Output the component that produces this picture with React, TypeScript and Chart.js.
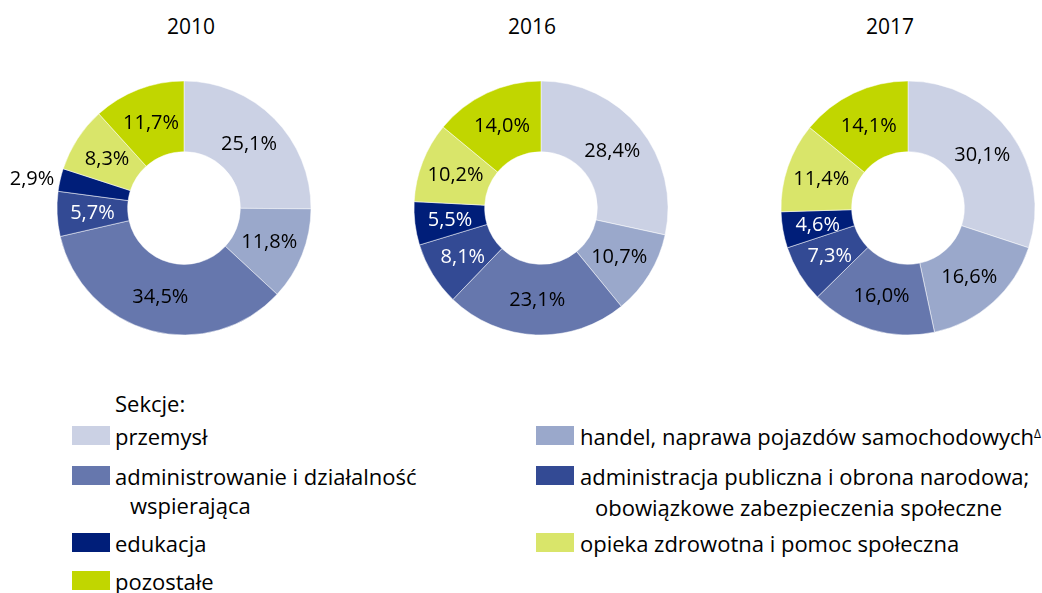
import React, { useEffect, useRef } from 'react';
import { Chart, registerables } from 'chart.js';

Chart.register(...registerables);

const sectors = [
  'przemysł',
  'handel, naprawa pojazdów samochodowych',
  'administrowanie i działalność wspierająca',
  'administracja publiczna i obrona narodowa; obowiązkowe zabezpieczenia społeczne',
  'edukacja',
  'opieka zdrowotna i pomoc społeczna',
  'pozostałe',
];
const years = ['2010', '2016', '2017'];
const values2010 = [25.1, 11.8, 34.5, 5.7, 2.9, 8.3, 11.7];
const values2016 = [28.4, 10.7, 23.1, 8.1, 5.5, 10.2, 14.0];
const values2017 = [30.1, 16.6, 16.0, 7.3, 4.6, 11.4, 14.1];
const seriesValues = [values2010, values2016, values2017];

const colors = ['#CBD1E4', '#9AA8CB', '#6677AD', '#334A94', '#001E79', '#D9E56A', '#C1D600'];
const labelColors = ['#000', '#000', '#000', '#fff', '#fff', '#000', '#000'];

const FONT = '"Open Sans", "Noto Sans", sans-serif';

const labelPlugin = {
  id: 'sliceLabels',
  afterDatasetsDraw(chart: any) {
    const ctx = chart.ctx;
    const meta = chart.getDatasetMeta(0);
    const data = chart.data.datasets[0].data as number[];
    ctx.save();
    ctx.font = `20px ${FONT}`;
    ctx.textBaseline = 'middle';
    meta.data.forEach((arc: any, i: number) => {
      const p = arc.getProps(['x', 'y', 'startAngle', 'endAngle', 'innerRadius', 'outerRadius'], true);
      const mid = (p.startAngle + p.endAngle) / 2;
      const text = data[i].toFixed(1).replace('.', ',') + '%';
      if (data[i] < 4) {
        const r = p.outerRadius + 6;
        ctx.textAlign = Math.cos(mid) < 0 ? 'right' : 'left';
        ctx.fillStyle = '#000';
        ctx.fillText(text, p.x + r * Math.cos(mid), p.y + r * Math.sin(mid) + 1);
      } else {
        const r = (p.innerRadius + p.outerRadius) / 2;
        ctx.textAlign = 'center';
        ctx.fillStyle = labelColors[i];
        ctx.fillText(text, p.x + r * Math.cos(mid), p.y + r * Math.sin(mid) + 1);
      }
    });
    ctx.restore();
  },
};

const CW = 400;
const CH = 280;

function Donut({ values, left, top }: { values: number[]; left: number; top: number }) {
  const ref = useRef<HTMLCanvasElement>(null);
  useEffect(() => {
    if (!ref.current) return;
    const chart = new Chart(ref.current, {
      type: 'doughnut',
      data: {
        labels: sectors,
        datasets: [
          {
            data: values,
            backgroundColor: colors,
            borderColor: '#ffffff',
            borderWidth: 0.5,
            radius: 127,
            cutout: 62,
          } as any,
        ],
      },
      options: {
        animation: false,
        responsive: false,
        maintainAspectRatio: false,
        layout: { padding: 0 },
        plugins: { legend: { display: false }, tooltip: { enabled: false }, title: { display: false } },
      },
      plugins: [labelPlugin],
    });
    return () => chart.destroy();
  }, [values]);
  return (
    <canvas
      ref={ref}
      width={CW}
      height={CH}
      style={{ position: 'absolute', left, top, width: CW, height: CH }}
    />
  );
}

const chartCenters = [
  { x: 184, y: 208 },
  { x: 541, y: 208 },
  { x: 908, y: 208 },
];
const titleCenters = [191, 532, 890];

const LEG = 22;
const textStyle: React.CSSProperties = {
  position: 'absolute',
  fontFamily: FONT,
  fontSize: LEG,
  lineHeight: `${LEG}px`,
  color: '#000',
  whiteSpace: 'nowrap',
};
// baseline offset from top for Open Sans with line-height == font size
const B = Math.round(LEG * 0.888);

function Swatch({ color, left, top }: { color: string; left: number; top: number }) {
  return <div style={{ position: 'absolute', left, top, width: 38, height: 19, background: color }} />;
}

export default function App() {
  useEffect(() => {
    document.body.style.margin = '0';
  }, []);
  return (
    <div style={{ position: 'relative', width: 1042, height: 593, overflow: 'hidden', background: '#fff' }}>
      {seriesValues.map((v, i) => (
        <Donut key={i} values={v} left={chartCenters[i].x - CW / 2} top={chartCenters[i].y - CH / 2} />
      ))}
      {years.map((y, i) => (
        <div
          key={y}
          style={{
            ...textStyle,
            fontSize: 21,
            lineHeight: '21px',
            left: titleCenters[i] - 60,
            width: 120,
            textAlign: 'center',
            top: 35 - Math.round(21 * 0.888),
          }}
        >
          {y}
        </div>
      ))}

      <div style={{ ...textStyle, left: 115, top: 412 - B }}>Sekcje:</div>

      <Swatch color={colors[0]} left={72} top={426} />
      <div style={{ ...textStyle, left: 115, top: 445 - B }}>{sectors[0]}</div>

      <Swatch color={colors[2]} left={72} top={466} />
      <div style={{ ...textStyle, left: 115, top: 485 - B }}>administrowanie i działalność</div>
      <div style={{ ...textStyle, left: 130, top: 514 - B }}>wspierająca</div>

      <Swatch color={colors[4]} left={72} top={533} />
      <div style={{ ...textStyle, left: 115, top: 552 - B }}>{sectors[4]}</div>

      <Swatch color={colors[6]} left={72} top={571} />
      <div style={{ ...textStyle, left: 115, top: 590 - B }}>{sectors[6]}</div>

      <Swatch color={colors[1]} left={536} top={426} />
      <div style={{ ...textStyle, left: 580, top: 445 - B }}>
        {sectors[1]}
        <span style={{ fontSize: 12, verticalAlign: 'top', position: 'relative', top: -2 }}>Δ</span>
      </div>

      <Swatch color={colors[3]} left={536} top={466} />
      <div style={{ ...textStyle, left: 580, top: 485 - B }}>administracja publiczna i obrona narodowa;</div>
      <div style={{ ...textStyle, left: 595, top: 516 - B }}>obowiązkowe zabezpieczenia społeczne</div>

      <Swatch color={colors[5]} left={536} top={533} />
      <div style={{ ...textStyle, left: 580, top: 552 - B }}>{sectors[5]}</div>
    </div>
  );
}
